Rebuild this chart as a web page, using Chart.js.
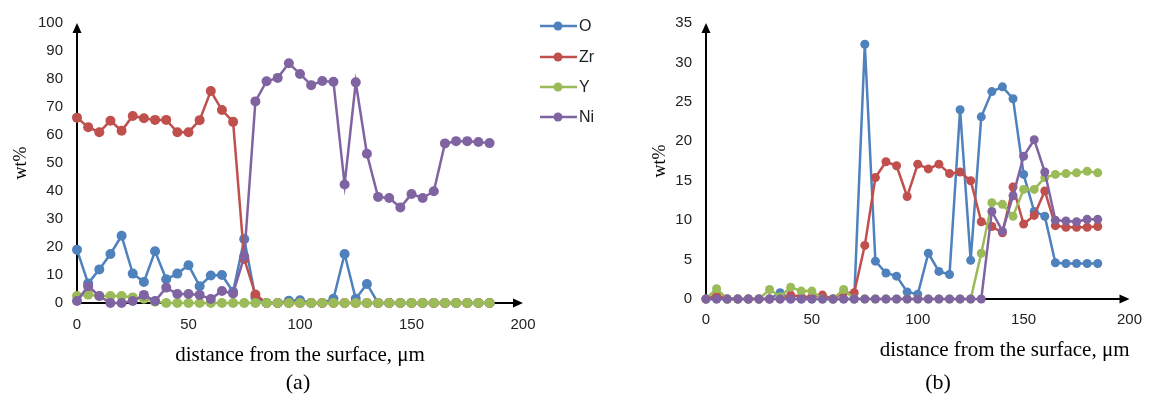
<!DOCTYPE html>
<html>
<head>
<meta charset="utf-8">
<script src="https://cdn.jsdelivr.net/npm/chart.js@4.4.1/dist/chart.umd.min.js"></script>
<style>
  html, body { margin: 0; padding: 0; background: #fff; }
  body { width: 1154px; height: 399px; position: relative; overflow: hidden; }
  #chartA { position: absolute; left: 0; top: 0; }
  #chartB { position: absolute; left: 645px; top: 0; }
  .cap { position: absolute; top: 369px; font-family: "Liberation Serif", serif; font-size: 22px; color: #000; transform: translateX(-50%); }
</style>
</head>
<body>
<canvas id="chartA" width="620" height="399"></canvas>
<canvas id="chartB" width="509" height="399"></canvas>
<div class="cap" style="left:298px">(a)</div>
<div class="cap" style="left:938px">(b)</div>
<script>
  // ========== DATA ==========
  const distance = [0, 5, 10, 15, 20, 25, 30, 35, 40, 45, 50, 55, 60, 65, 70, 75, 80, 85, 90, 95,
                    100, 105, 110, 115, 120, 125, 130, 135, 140, 145, 150, 155, 160, 165, 170, 175, 180, 185];
  const elements = ['O', 'Zr', 'Y', 'Ni'];
  const colors = ['#4F81BD', '#C0504D', '#9BBB59', '#8064A2'];

  // (a)
  const oA  = [19, 7, 12, 17.5, 24, 10.5, 7.5, 18.5, 8.5, 10.5, 13.5, 6, 9.8, 10, 4, 22.8, 2, 0, 0, 0.8,
               1, 0, 0, 1.5, 17.5, 1.5, 6.8, 0, 0, 0, 0, 0, 0, 0, 0, 0, 0, 0];
  const zrA = [66.2, 62.8, 61, 65.1, 61.5, 66.8, 66, 65.4, 65.4, 61, 61, 65.3, 75.7, 68.9, 64.7, 15.7, 3, 0, 0, 0,
               0, 0, 0, 0, 0, 0, 0, 0, 0, 0, 0, 0, 0, 0, 0, 0, 0, 0];
  const yA  = [2.5, 3, 2.5, 2.5, 2.5, 2, 1.5, 0.5, 0, 0, 0, 0, 0, 0, 0, 0, 0, 0, 0, 0,
               0, 0, 0, 0, 0, 0, 0, 0, 0, 0, 0, 0, 0, 0, 0, 0, 0, 0];
  const niA = [0.7, 6, 2.5, 0, 0, 0.7, 2.9, 0.7, 5.5, 3.2, 3.2, 2.9, 1.4, 4.3, 3.4, 16.6, 72, 79.2, 80.4, 85.6,
               81.8, 77.8, 79.3, 79, 42.3, 78.8, 53.3, 37.9, 37.5, 34.1, 38.9, 37.5, 39.9, 57, 57.8, 57.8, 57.5, 57.1];

  // (b)
  const oB  = [0, 0, 0, 0, 0, 0, 0, 0.8, 0, 0, 0, 0, 0, 0, 0, 32.3, 4.8, 3.3, 2.9, 0.9,
               0.6, 5.8, 3.5, 3.1, 24, 4.9, 23.1, 26.3, 26.9, 25.4, 15.8, 11.1, 10.5, 4.6, 4.5, 4.5, 4.5, 4.5];
  const zrB = [0, 0.5, 0, 0, 0, 0, 0, 0, 0.5, 0.3, 0.3, 0.5, 0, 0.8, 0.8, 6.8, 15.4, 17.4, 16.9, 13,
               17.1, 16.5, 17.1, 15.9, 16.1, 15, 9.8, 9.2, 8.4, 14.2, 9.5, 10.6, 13.7, 9.3, 9.1, 9.1, 9.1, 9.2];
  const yB  = [0, 1.3, 0, 0, 0, 0, 1.2, 0.3, 1.5, 1, 1, 0, 0, 1.2, 0, 0, 0, 0, 0, 0,
               0, 0, 0, 0, 0, 0, 5.8, 12.2, 12, 10.5, 13.9, 13.9, 15.4, 15.8, 15.9, 16, 16.2, 16];
  const niB = [0, 0, 0, 0, 0, 0, 0, 0, 0, 0, 0, 0, 0, 0, 0, 0, 0, 0, 0, 0,
               0, 0, 0, 0, 0, 0, 0, 11.1, 8.6, 13.1, 18.1, 20.2, 16.1, 10, 9.9, 9.8, 10.1, 10.1];

  const xTicks = [0, 50, 100, 150, 200];
  const yTicksA = [0, 10, 20, 30, 40, 50, 60, 70, 80, 90, 100];
  const yTicksB = [0, 5, 10, 15, 20, 25, 30, 35];

  // ========== HELPERS ==========
  const sans = "'Liberation Sans', Arial, sans-serif";
  const serif = "'Liberation Serif', 'Times New Roman', serif";

  function makeDatasets(series, radius) {
    return series.map((vals, i) => ({
      label: elements[i],
      data: vals.map((v, k) => ({ x: distance[k], y: v })),
      borderColor: colors[i],
      backgroundColor: colors[i],
      pointBackgroundColor: colors[i],
      pointBorderColor: colors[i],
      pointRadius: radius,
      pointBorderWidth: 0,
      borderWidth: 2.5,
      tension: 0,
      clip: false,
      order: 3 - i   // Ni on top, O at the bottom, like the original
    }));
  }

  // black axes with arrow heads, drawn under the markers
  const arrowAxes = {
    id: 'arrowAxes',
    beforeDatasetsDraw(chart) {
      const { ctx, chartArea: a } = chart;
      ctx.save();
      ctx.strokeStyle = '#000';
      ctx.fillStyle = '#000';
      ctx.lineWidth = 2;
      ctx.beginPath();
      ctx.moveTo(a.left, a.bottom);
      ctx.lineTo(a.left, a.top + 6);
      ctx.moveTo(a.left, a.bottom);
      ctx.lineTo(a.right - 6, a.bottom);
      ctx.stroke();
      ctx.beginPath();
      ctx.moveTo(a.left, a.top);
      ctx.lineTo(a.left - 4.5, a.top + 10);
      ctx.lineTo(a.left + 4.5, a.top + 10);
      ctx.closePath();
      ctx.fill();
      ctx.beginPath();
      ctx.moveTo(a.right, a.bottom);
      ctx.lineTo(a.right - 10, a.bottom - 4.5);
      ctx.lineTo(a.right - 10, a.bottom + 4.5);
      ctx.closePath();
      ctx.fill();
      ctx.restore();
    }
  };

  // legend with line + marker samples, right of chart (a)
  const sideLegend = {
    id: 'sideLegend',
    afterDraw(chart) {
      const ctx = chart.ctx;
      const rows = [26, 57, 87, 117];
      ctx.save();
      ctx.font = '16px ' + sans;
      ctx.textBaseline = 'middle';
      elements.forEach((name, i) => {
        const y = rows[i];
        ctx.strokeStyle = colors[i];
        ctx.fillStyle = colors[i];
        ctx.lineWidth = 2.5;
        ctx.beginPath();
        ctx.moveTo(540, y);
        ctx.lineTo(577, y);
        ctx.stroke();
        ctx.beginPath();
        ctx.arc(558, y, 4.5, 0, Math.PI * 2);
        ctx.fill();
        ctx.fillStyle = '#222';
        ctx.fillText(name, 579, y + 1);
      });
      ctx.restore();
    }
  };

  function makeOptions(cfg) {
    return {
      responsive: false,
      animation: false,
      layout: { padding: cfg.padding },
      plugins: { legend: { display: false }, tooltip: { enabled: false } },
      scales: {
        x: {
          type: 'linear', min: 0, max: 200,
          afterFit: s => { s.height = cfg.xHeight; },
          afterBuildTicks: s => { s.ticks = xTicks.map(v => ({ value: v })); },
          grid: { display: false, drawTicks: false },
          border: { display: false },
          ticks: { padding: cfg.xTickPad, color: '#222', font: { family: sans, size: 15 } },
          title: {
            display: true, text: 'distance from the surface, μm', align: cfg.xTitleAlign,
            color: '#000', font: { family: serif, size: 21 },
            padding: { top: 0, bottom: cfg.xTitlePad }
          }
        },
        y: {
          min: 0, max: cfg.yMax,
          afterFit: s => { s.width = cfg.yWidth; },
          afterBuildTicks: s => { s.ticks = cfg.yTicks.map(v => ({ value: v })); },
          grid: { display: false, drawTicks: false },
          border: { display: false },
          ticks: { padding: 14, color: '#222', font: { family: sans, size: 15 } },
          title: {
            display: true, text: 'wt%', color: '#000',
            font: { family: serif, size: 18 },
            padding: { top: cfg.yTitlePad, bottom: 0 }
          }
        }
      }
    };
  }

  // ========== CHARTS ==========
  new Chart(document.getElementById('chartA'), {
    type: 'line',
    data: { datasets: makeDatasets([oA, zrA, yA, niA], 5) },
    options: makeOptions({
      padding: { left: 0, top: 17, right: 97, bottom: 0 },
      xHeight: 96, xTickPad: 13, xTitlePad: 31, xTitleAlign: 'center',
      yWidth: 77, yTitlePad: 10, yMax: 100, yTicks: yTicksA
    }),
    plugins: [arrowAxes, sideLegend]
  });

  new Chart(document.getElementById('chartB'), {
    type: 'line',
    data: { datasets: makeDatasets([oB, zrB, yB, niB], 4.5) },
    options: makeOptions({
      padding: { left: 0, top: 22, right: 16, bottom: 0 },
      xHeight: 100, xTickPad: 12, xTitlePad: 36, xTitleAlign: 'end',
      yWidth: 61, yTitlePad: 4, yMax: 35, yTicks: yTicksB
    }),
    plugins: [arrowAxes]
  });
</script>
</body>
</html>
